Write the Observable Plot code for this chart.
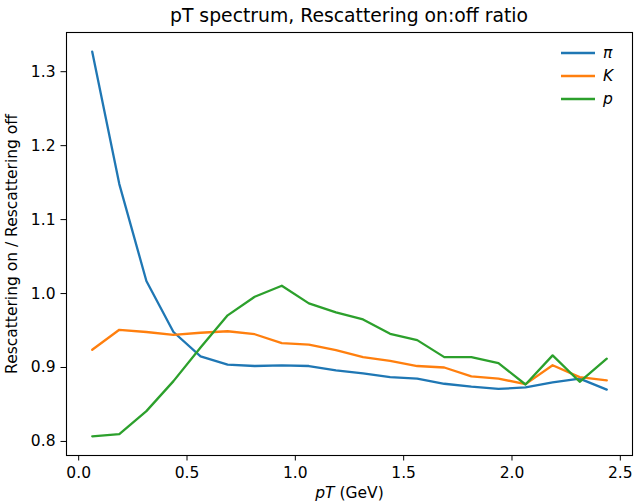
<!DOCTYPE html>
<html>
<head>
<meta charset="utf-8">
<script src="https://cdn.jsdelivr.net/npm/d3@7"></script>
<script src="https://cdn.jsdelivr.net/npm/@observablehq/plot@0.6"></script>
<style>
  html, body { margin: 0; padding: 0; background: #fff; }
  #wrap { position: relative; width: 634px; height: 504px; font-family: "DejaVu Sans", sans-serif; }
  #title { box-sizing: border-box; height: 24px; width: 634px; padding: 6px 2px 0 66px; text-align: center;
           font-size: 18.8px; line-height: 19px; color: #000; white-space: nowrap; overflow: visible; }
  #legend { position: absolute; left: 561px; top: 41px; }
  .row { display: flex; align-items: center; height: 23.3px; }
  .row span { font-style: italic; font-size: 15.5px; margin-left: 8px; color: #000; }
</style>
</head>
<body>
<div id="wrap">
  <div id="title">pT spectrum, Rescattering on:off ratio</div>
  <div id="chart"></div>
  <div id="legend"></div>
</div>
<script>
const pT = [0.0625, 0.1875, 0.3125, 0.4375, 0.5625, 0.6875, 0.8125, 0.9375, 1.0625, 1.1875,
            1.3125, 1.4375, 1.5625, 1.6875, 1.8125, 1.9375, 2.0625, 2.1875, 2.3125, 2.4375];
const pion = [1.327, 1.148, 1.017, 0.948, 0.915, 0.904, 0.902, 0.903, 0.902, 0.896,
              0.892, 0.887, 0.885, 0.878, 0.874, 0.871, 0.873, 0.880, 0.885, 0.870];
const kaon = [0.924, 0.951, 0.948, 0.944, 0.947, 0.949, 0.945, 0.933, 0.931, 0.9235,
              0.914, 0.909, 0.902, 0.900, 0.888, 0.885, 0.8775, 0.903, 0.887, 0.8825];
const proton = [0.807, 0.810, 0.841, 0.8816, 0.927, 0.9705, 0.9957, 1.0106, 0.9867, 0.9746,
                0.965, 0.9456, 0.937, 0.914, 0.914, 0.906, 0.877, 0.9164, 0.8807, 0.912];
const seriesNames = ["π", "K", "p"];
const seriesColors = ["#1f77b4", "#ff7f0e", "#2ca02c"];
const xTicks = [0.0, 0.5, 1.0, 1.5, 2.0, 2.5];
const yTicks = [0.8, 0.9, 1.0, 1.1, 1.2, 1.3];

const seriesValues = [pion, kaon, proton];
const rows = [];
seriesValues.forEach((vals, s) => vals.forEach((v, i) => rows.push({x: pT[i], y: v, s: seriesNames[s]})));

const xmin = d3.min(pT), xmax = d3.max(pT);
const allY = [].concat(pion, kaon, proton);
const ymin = d3.min(allY), ymax = d3.max(allY);
const xm = (xmax - xmin) * 0.05, ym = (ymax - ymin) * 0.05;

const chart = Plot.plot({
  width: 634,
  height: 480,
  marginTop: 8,
  marginBottom: 49,
  marginLeft: 66,
  marginRight: 2,
  style: {fontFamily: "DejaVu Sans, sans-serif", fontSize: "15.5px", color: "#000", background: "#fff"},
  x: {domain: [xmin - xm, xmax + xm]},
  y: {domain: [ymin - ym, ymax + ym]},
  color: {domain: seriesNames, range: seriesColors},
  marks: [
    Plot.line(rows, {x: "x", y: "y", z: "s", stroke: "s", strokeWidth: 2.3}),
    Plot.frame({stroke: "#000", strokeWidth: 1.1}),
    Plot.axisX({ticks: xTicks, tickFormat: d3.format(".1f"), tickSize: 5.5, tickPadding: 5.5,
                label: "pT (GeV)", labelAnchor: "center", labelOffset: 42, labelArrow: "none"}),
    Plot.axisY({ticks: yTicks, tickFormat: d3.format(".1f"), tickSize: 5.5, tickPadding: 5.5,
                label: "Rescattering on / Rescattering off", labelAnchor: "center", labelOffset: 60.5, labelArrow: "none"})
  ]
});
document.getElementById("chart").appendChild(chart);

// italicise "pT" in the x-axis label
d3.select(chart).selectAll("g[aria-label='x-axis label'] text").each(function() {
  const t = d3.select(this);
  t.text(null);
  t.append("tspan").attr("font-style", "italic").text("pT");
  t.append("tspan").text(" (GeV)");
});

// legend
const leg = d3.select("#legend");
seriesNames.forEach((n, i) => {
  const r = leg.append("div").attr("class", "row");
  const sv = r.append("svg").attr("width", 34).attr("height", 4);
  sv.append("line").attr("x1", 0).attr("x2", 34).attr("y1", 2).attr("y2", 2)
    .attr("stroke", seriesColors[i]).attr("stroke-width", 2.3);
  r.append("span").text(n);
});
</script>
</body>
</html>
